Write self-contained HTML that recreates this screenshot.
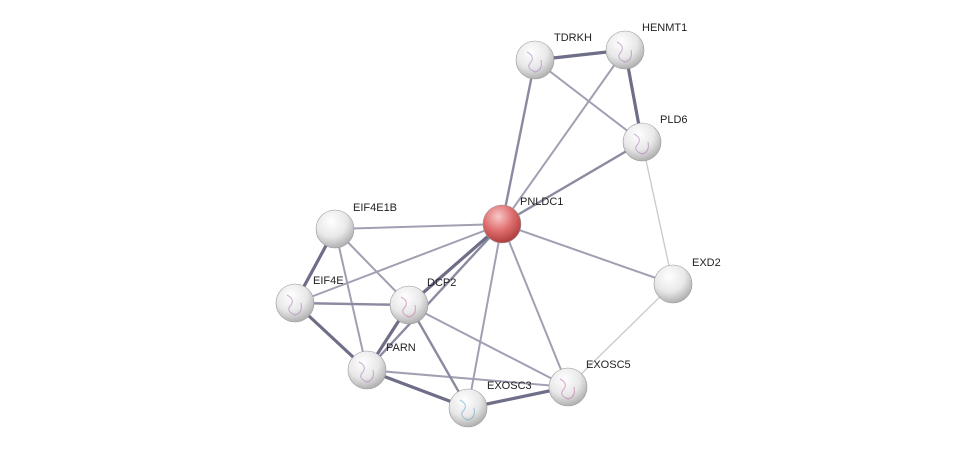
<!DOCTYPE html>
<html><head><meta charset="utf-8"><style>
html,body{margin:0;padding:0;background:#fff;}
svg{display:block;}
text{font-family:"Liberation Sans",sans-serif;font-size:11px;fill:#222;}
</style></head><body>
<svg width="976" height="453" viewBox="0 0 976 453" xmlns="http://www.w3.org/2000/svg">
<defs>
<radialGradient id="g" cx="0.4" cy="0.3" r="0.75">
<stop offset="0" stop-color="#ffffff"/><stop offset="0.55" stop-color="#e8e8e8"/><stop offset="1" stop-color="#a8a8a8"/>
</radialGradient>
<radialGradient id="r" cx="0.4" cy="0.3" r="0.75">
<stop offset="0" stop-color="#f8c8c8"/><stop offset="0.5" stop-color="#e07070"/><stop offset="1" stop-color="#a83838"/>
</radialGradient>
</defs>
<g stroke-linecap="round">
<g stroke="#a0a0b2" stroke-width="2">
<line x1="535" y1="60" x2="642" y2="142"/>
<line x1="625" y1="50" x2="502" y2="224"/>
<line x1="335" y1="229" x2="409" y2="305"/>
<line x1="335" y1="229" x2="367" y2="370"/>
<line x1="295" y1="303" x2="502" y2="224"/>
<line x1="409" y1="305" x2="568" y2="387"/>
<line x1="367" y1="370" x2="568" y2="387"/>
<line x1="502" y1="224" x2="673" y2="284"/>
<line x1="502" y1="224" x2="568" y2="387"/>
<line x1="502" y1="224" x2="468" y2="408"/>
<line x1="502" y1="224" x2="335" y2="229"/>
</g>
<g stroke="#c8c8d0" stroke-width="1.3">
<line x1="642" y1="142" x2="673" y2="284"/>
<line x1="673" y1="284" x2="568" y2="387"/>
</g>
<g stroke="#8a8aa0" stroke-width="2.4">
<line x1="535" y1="60" x2="502" y2="224"/>
<line x1="642" y1="142" x2="502" y2="224"/>
<line x1="295" y1="303" x2="409" y2="305"/>
<line x1="409" y1="305" x2="468" y2="408"/>
<line x1="502" y1="224" x2="367" y2="370"/>
</g>
<g stroke="#6e6e88" stroke-width="3.2">
<line x1="535" y1="60" x2="625" y2="50"/>
<line x1="625" y1="50" x2="642" y2="142"/>
<line x1="335" y1="229" x2="295" y2="303"/>
<line x1="295" y1="303" x2="367" y2="370"/>
<line x1="409" y1="305" x2="367" y2="370"/>
<line x1="502" y1="224" x2="409" y2="305"/>
<line x1="367" y1="370" x2="468" y2="408"/>
<line x1="468" y1="408" x2="568" y2="387"/>
</g>
</g>
<g stroke="#999" stroke-width="0.6">
<circle cx="535" cy="60" r="19" fill="url(#g)"/>
<circle cx="625" cy="50" r="19" fill="url(#g)"/>
<circle cx="642" cy="142" r="19" fill="url(#g)"/>
<circle cx="335" cy="229" r="19" fill="url(#g)"/>
<circle cx="673" cy="284" r="19" fill="url(#g)"/>
<circle cx="295" cy="303" r="19" fill="url(#g)"/>
<circle cx="409" cy="305" r="19" fill="url(#g)"/>
<circle cx="367" cy="370" r="19" fill="url(#g)"/>
<circle cx="568" cy="387" r="19" fill="url(#g)"/>
<circle cx="468" cy="408" r="19" fill="url(#g)"/>
<circle cx="502" cy="224" r="19" fill="url(#r)"/>
</g>
<g fill="none" stroke-width="1" opacity="0.55">
<path d="M527 52 q8 4 4 10 q-6 6 4 10 q8 -2 6 -12" stroke="#a070c0"/>
<path d="M617 42 q8 4 4 10 q-6 6 4 10 q8 -2 6 -12" stroke="#a070c0"/>
<path d="M634 134 q8 4 4 10 q-6 6 4 10 q8 -2 6 -12" stroke="#a070c0"/>
<path d="M287 295 q8 4 4 10 q-6 6 4 10 q8 -2 6 -12" stroke="#a070c0"/>
<path d="M401 297 q8 4 4 10 q-6 6 4 10 q8 -2 6 -12" stroke="#c060a0"/>
<path d="M359 362 q8 4 4 10 q-6 6 4 10 q8 -2 6 -12" stroke="#a070c0"/>
<path d="M560 379 q8 4 4 10 q-6 6 4 10 q8 -2 6 -12" stroke="#c060a0"/>
<path d="M460 400 q8 4 4 10 q-6 6 4 10 q8 -2 6 -12" stroke="#50a0c0"/>
</g>
<text x="554" y="41">TDRKH</text>
<text x="642" y="31">HENMT1</text>
<text x="660" y="123">PLD6</text>
<text x="520" y="205">PNLDC1</text>
<text x="353" y="211">EIF4E1B</text>
<text x="692" y="266">EXD2</text>
<text x="313" y="284">EIF4E</text>
<text x="427" y="286">DCP2</text>
<text x="386" y="351">PARN</text>
<text x="586" y="368">EXOSC5</text>
<text x="487" y="389">EXOSC3</text>
</svg>
</body></html>
